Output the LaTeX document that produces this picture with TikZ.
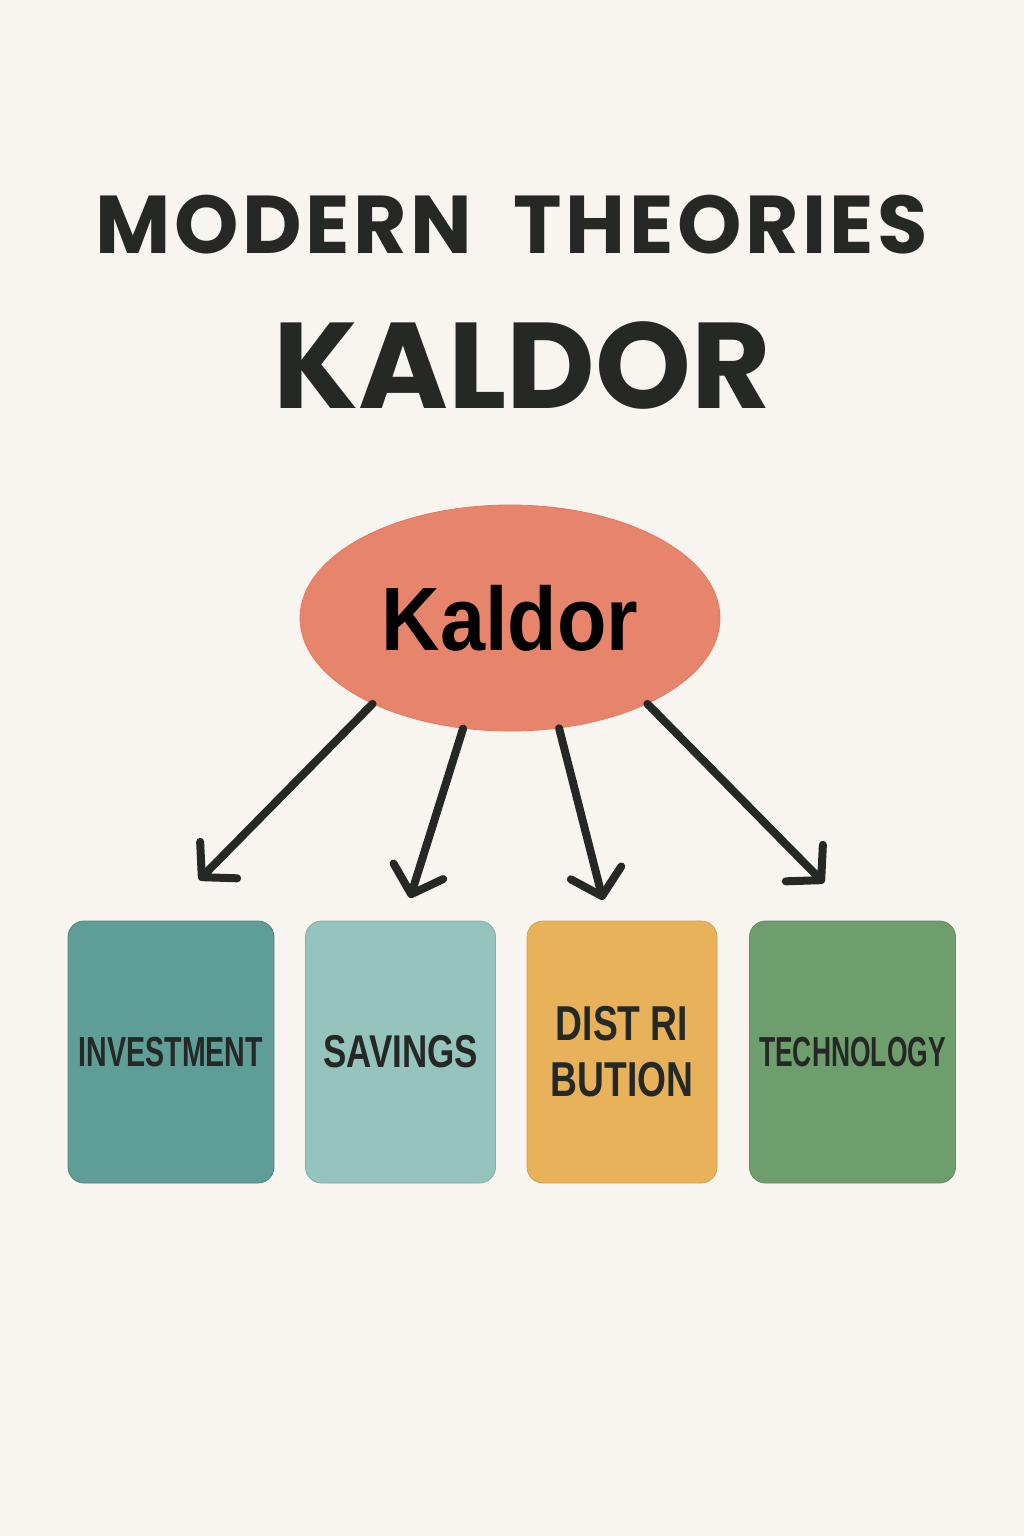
\documentclass[tikz,border=0pt]{standalone}
\usepackage{fontspec}
\usepackage{graphicx}
\setmainfont{Liberation Sans}
\newfontfamily\titlefont{Poppins}
\usetikzlibrary{positioning,shapes.geometric,arrows.meta}

\definecolor{paper}{HTML}{F8F5F0}
\definecolor{ink}{HTML}{262825}
\definecolor{salmon}{HTML}{E6846C}
\definecolor{tealbox}{HTML}{5E9E96}
\definecolor{mintbox}{HTML}{94C4BB}
\definecolor{goldbox}{HTML}{E8B25A}
\definecolor{greenbox}{HTML}{6E9E6E}

\tikzset{
  topic/.style={ellipse, fill=salmon, draw=salmon!90!red, minimum width=210pt, minimum height=113pt, inner sep=0pt},
  factor/.style={rectangle, rounded corners=8pt, minimum width=103pt, minimum height=131pt, inner sep=0pt, align=center, text=ink},
  link/.style={ink, line width=4pt, line cap=round, -{Straight Barb[length=12pt, width=26pt, line cap=round, line join=round]}}
}

\begin{document}
\begin{tikzpicture}[x=0.5pt, y=-0.5pt]
\fill[paper] (0,0) rectangle (1024,1536);

% headings
\node[anchor=base, text=ink] (head) at (512,253) {\titlefont\bfseries\fontsize{41}{41}\selectfont\addfontfeature{LetterSpace=4.3}MODERN\ \ THEORIES};
\node[anchor=base, text=ink] (name) at (522,408) {\titlefont\bfseries\fontsize{61}{61}\selectfont KALDOR};

% central idea
\node[topic] (kaldor) at (510,618) {\bfseries\fontsize{45}{45}\selectfont\scalebox{0.9}[1]{Kaldor}};

% the four factors
\node[factor, fill=tealbox, draw=tealbox!85!black] (invest) at (171,1052) {\bfseries\fontsize{21}{21}\selectfont\scalebox{0.68}[1]{INVESTMENT}};
\node[factor, fill=mintbox, draw=mintbox!88!black, minimum width=95pt] (save) at (400.5,1052) {\bfseries\fontsize{23}{23}\selectfont\scalebox{0.76}[1]{SAVINGS}};
\node[factor, fill=goldbox, draw=goldbox!90!black, minimum width=95pt, font=\bfseries\fontsize{24.5}{29}\selectfont] (distr) at (622,1052) {\scalebox{0.76}[1]{DIST RI}\\[-1pt]\scalebox{0.76}[1]{BUTION}};
\node[factor, fill=greenbox, draw=greenbox!88!black] (tech) at (852.5,1052) {\bfseries\fontsize{21}{21}\selectfont\scalebox{0.63}[1]{TECHNOLOGY}};

% arrow ends above the boxes
\coordinate (t1) at (199,880);
\coordinate (t2) at (410,898);
\coordinate (t3) at (603,900);
\coordinate (t4) at (824,883);

\draw[link] (kaldor.212) -- (t1);
\draw[link] (kaldor.247) -- (t2);
\draw[link] (kaldor.294) -- (t3);
\draw[link] (kaldor.328) -- (t4);
\end{tikzpicture}
\end{document}
